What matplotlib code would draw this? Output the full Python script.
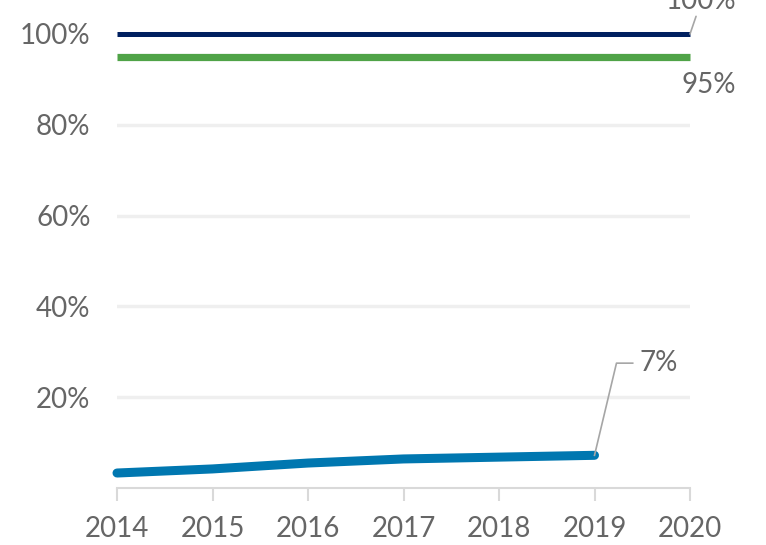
import matplotlib
matplotlib.use("Agg")
import matplotlib.pyplot as plt

years = [2014, 2015, 2016, 2017, 2018, 2019, 2020]
target_100 = [100, 100, 100, 100, 100, 100, 100]
target_95 = [95, 95, 95, 95, 95, 95, 95]
actual_years = [2014, 2015, 2016, 2017, 2018, 2019]
actual = [3.3, 4.2, 5.5, 6.4, 6.8, 7.2]
yticks = [20, 40, 60, 80, 100]
ytick_labels = ["20%", "40%", "60%", "80%", "100%"]

plt.rcParams['font.family'] = ['Lato', 'DejaVu Sans']
txt = '#666666'
fs = 20

fig = plt.figure(figsize=(7.66, 5.45), dpi=100)
ax = fig.add_axes([117/766, (545-488)/545, (690-117)/766, (488-34)/545])
ax.set_xlim(2014, 2020)
ax.set_ylim(0, 100)

for y in [20, 40, 60, 80]:
    ax.axhline(y, color='#efefef', lw=2.5, zorder=0)

ax.plot(years, target_100, color='#002060', lw=3.6, solid_capstyle='butt', clip_on=False, zorder=3)
ax.plot(years, target_95, color='#4fa347', lw=5.2, solid_capstyle='butt', clip_on=False, zorder=3)
ax.plot(actual_years, actual, color='#0077b0', lw=6.5, solid_capstyle='round', clip_on=False, zorder=3)

for s in ['top', 'right', 'left']:
    ax.spines[s].set_visible(False)
ax.spines['bottom'].set_color('#d9d9d9')
ax.spines['bottom'].set_linewidth(1.5)

ax.set_xticks(years)
ax.set_xticklabels([str(y) for y in years], fontsize=fs, color=txt)
ax.tick_params(axis='x', length=9, width=1.5, color='#d9d9d9', pad=11)
ax.set_yticks(yticks)
ax.set_yticklabels(ytick_labels, fontsize=fs, color=txt)
ax.tick_params(axis='y', length=0, pad=19)

lc = '#a6a6a6'
ax.annotate('100%', xy=(2020, 100), xytext=(2020.12, 104.5), fontsize=fs, color=txt,
            ha='center', va='bottom', annotation_clip=False,
            arrowprops=dict(arrowstyle='-', color=lc, lw=1.2, shrinkA=0, shrinkB=0))
ax.text(2020.2, 88.8, '95%', fontsize=fs, color=txt, ha='center', va='center', clip_on=False)
ax.plot([actual_years[-1], 2019.23, 2019.4], [actual[-1], 27.5, 27.5], color=lc, lw=1.2,
        clip_on=False, zorder=4)
ax.text(2019.47, 27.5, '7%', fontsize=fs, color=txt, ha='left', va='center')

fig.savefig('out.png', dpi=100)
